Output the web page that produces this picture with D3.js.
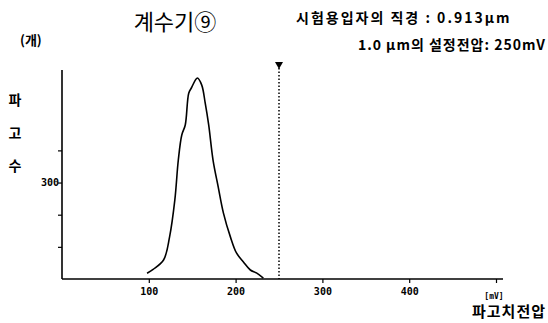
<!DOCTYPE html>
<html>
<head>
<meta charset="utf-8">
<script src="https://cdn.jsdelivr.net/npm/d3@7"></script>
<style>
  body { margin: 0; background: #fff; }
  svg text { fill: #000; }
</style>
</head>
<body>
<div id="chart"></div>
<script>
// pulse height distribution
var voltage = [98, 105, 117, 124, 130, 134, 138, 142, 146, 149, 156, 161, 165, 169, 174, 180, 186, 194, 201, 209, 217, 224, 232];
var counts  = [18, 30, 59, 132, 246, 370, 448, 479, 578, 594, 625, 603, 547, 479, 370, 286, 205, 131, 81, 53, 28, 19, 3];
var xTicks = [100, 200, 300, 400, 500];
var yTicks = [100, 200, 300, 400];
var setVoltage = 250;

var width = 548, height = 323;
var svg = d3.select("#chart")
  .append("svg")
    .attr("width", width)
    .attr("height", height);

var x = d3.scaleLinear()
  .domain([0, 500])
  .range([62, 496]);
var y = d3.scaleLinear()
  .domain([0, 650])
  .range([279, 70]);

var mono = "'DejaVu Sans Mono', monospace";
var kr = "'Noto Sans CJK KR', sans-serif";

// X axis
var xAxis = svg.append("g")
  .attr("transform", "translate(0," + y(0) + ")")
  .call(d3.axisBottom(x).tickValues(xTicks).tickSize(4).tickSizeOuter(0)
    .tickFormat(d => d == 500 ? "" : d));
xAxis.select(".domain").attr("d", "M62,0H503").attr("stroke-width", 1.6);
xAxis.selectAll("line").attr("stroke-width", 1.2);
xAxis.selectAll("text")
  .attr("font-family", mono).attr("font-size", 10).attr("font-weight", "bold")
  .attr("dy", "0.85em");

// Y axis
var yAxis = svg.append("g")
  .attr("transform", "translate(" + x(0) + ",0)")
  .call(d3.axisLeft(y).tickValues(yTicks).tickSize(4).tickSizeOuter(0)
    .tickFormat(d => d == 300 ? d : ""));
yAxis.select(".domain").attr("d", "M0,70V" + y(0)).attr("stroke-width", 1.6);
yAxis.selectAll("line").attr("stroke-width", 1.2);
yAxis.selectAll("text")
  .attr("font-family", mono).attr("font-size", 10).attr("font-weight", "bold")
  .attr("x", -3);

// curve
var line = d3.line()
  .x((d, i) => x(voltage[i]))
  .y(d => y(d))
  .curve(d3.curveCatmullRom);
svg.append("path")
  .datum(counts)
  .attr("d", line)
  .attr("fill", "none")
  .attr("stroke", "#000")
  .attr("stroke-width", 1.6);

// set voltage marker
svg.append("line")
  .attr("x1", x(setVoltage)).attr("x2", x(setVoltage))
  .attr("y1", 68).attr("y2", y(0))
  .attr("stroke", "#000")
  .attr("stroke-width", 1.5)
  .attr("stroke-dasharray", "1.5,2");
svg.append("path")
  .attr("d", "M" + (x(setVoltage) - 4) + ",62L" + (x(setVoltage) + 4) + ",62L" + x(setVoltage) + ",69Z")
  .attr("fill", "#000");

// titles
svg.append("text")
  .attr("x", 175).attr("y", 30)
  .attr("text-anchor", "middle")
  .attr("font-family", kr).attr("font-size", 22)
  .text("계수기⑨");
svg.append("text")
  .attr("x", 20).attr("y", 45)
  .attr("font-family", kr).attr("font-size", 13).attr("font-weight", "bold")
  .text("(개)");
svg.append("text")
  .attr("x", 296).attr("y", 23)
  .attr("font-family", kr).attr("font-size", 14).attr("font-weight", "bold")
  .attr("letter-spacing", 2)
  .text("시험용입자의 직경 : 0.913μm");
svg.append("text")
  .attr("x", 546).attr("y", 50)
  .attr("text-anchor", "end")
  .attr("font-family", kr).attr("font-size", 14).attr("font-weight", "bold")
  .attr("letter-spacing", 1)
  .text("1.0 μm의 설정전압: 250mV");

// y label, one syllable per line
svg.append("g")
  .selectAll("text")
  .data(["파", "고", "수"])
  .enter()
  .append("text")
  .attr("x", 15)
  .attr("y", (d, i) => 105 + i * 33)
  .attr("text-anchor", "middle")
  .attr("font-family", kr).attr("font-size", 14).attr("font-weight", "bold")
  .text(d => d);

// x label
svg.append("text")
  .attr("x", x(500) - 2).attr("y", 299)
  .attr("text-anchor", "middle")
  .attr("font-family", mono).attr("font-size", 8).attr("font-weight", "bold")
  .text("[mV]");
svg.append("text")
  .attr("x", 546).attr("y", 317)
  .attr("text-anchor", "end")
  .attr("font-family", kr).attr("font-size", 15).attr("font-weight", "bold")
  .attr("letter-spacing", 1)
  .text("파고치전압");
</script>
</body>
</html>
